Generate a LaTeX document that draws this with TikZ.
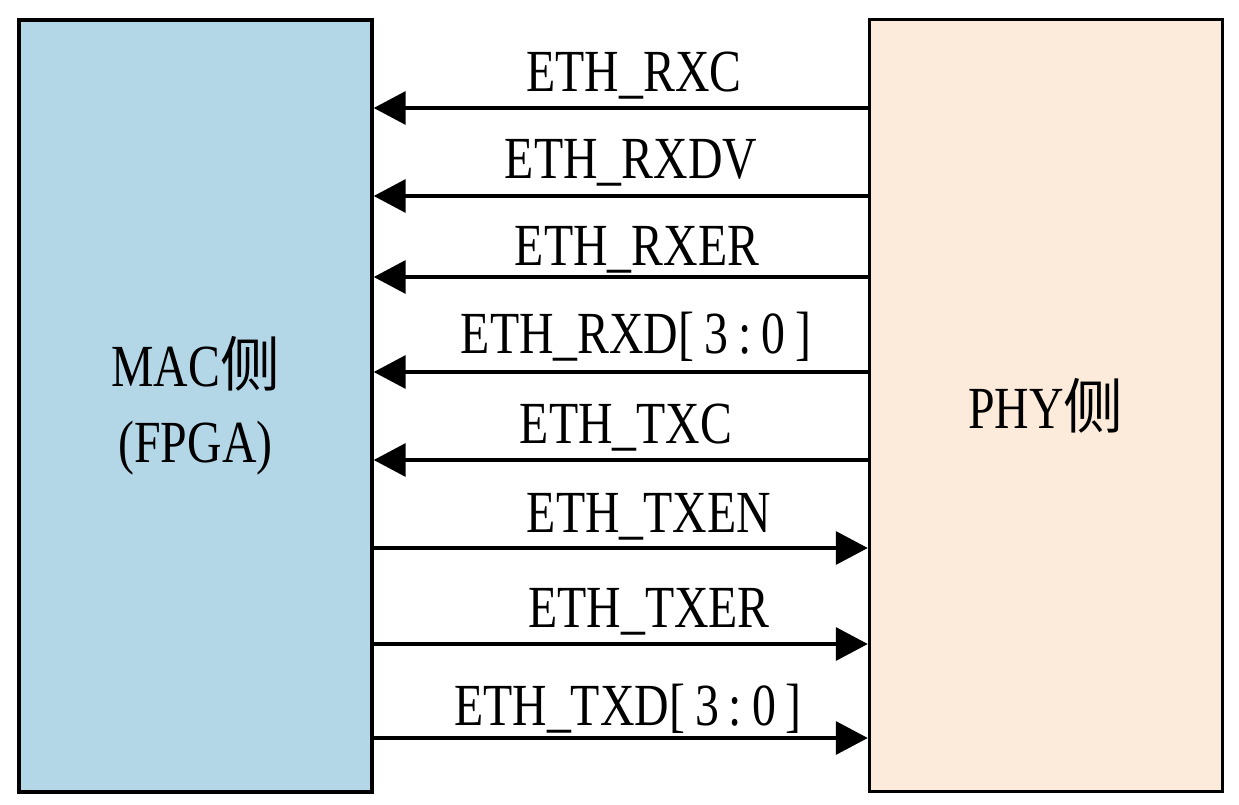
\documentclass[tikz,border=0pt]{standalone}
\usepackage{fontspec}
\setmainfont[FakeStretch=0.8]{Liberation Serif}
\newfontfamily\cjkfont{Noto Sans CJK SC}
\usetikzlibrary{arrows.meta}
\definecolor{macblue}{HTML}{B4D7E8}
\definecolor{phypeach}{HTML}{FCEADB}

\begin{document}
\begin{tikzpicture}[x=0.02cm,y=-0.02cm]
\tikzset{
  sidebox/.style={draw,line width=2pt,minimum width=7.06cm,minimum height=15.44cm,inner sep=0pt,align=center,font=\fontsize{34}{43}\selectfont},
  signal/.style={-{Triangle[length=0.64cm,width=0.66cm]},line width=2pt},
  siglabel/.style={anchor=base,inner sep=0pt,font=\fontsize{34}{40}\selectfont}
}
\useasboundingbox (0,0) rectangle (1239,804);
\node[sidebox,fill=macblue] (n_mac) at (195.5,406) {MAC{\cjkfont 侧}\\(FPGA)};
\node[sidebox,fill=phypeach] (n_phy) at (1046,405.5) {PHY{\cjkfont 侧}};
% receive side: PHY -> MAC
\draw[signal] (n_phy.west |- 0,108) -- (n_mac.east |- 0,108);
\draw[signal] (n_phy.west |- 0,196) -- (n_mac.east |- 0,196);
\draw[signal] (n_phy.west |- 0,277) -- (n_mac.east |- 0,277);
\draw[signal] (n_phy.west |- 0,372) -- (n_mac.east |- 0,372);
\draw[signal] (n_phy.west |- 0,460) -- (n_mac.east |- 0,460);
% transmit side: MAC -> PHY
\draw[signal] (n_mac.east |- 0,548) -- (n_phy.west |- 0,548);
\draw[signal] (n_mac.east |- 0,644) -- (n_phy.west |- 0,644);
\draw[signal] (n_mac.east |- 0,738) -- (n_phy.west |- 0,738);
\node[siglabel] (l_rxc) at (634,92) {ETH\_RXC};
\node[siglabel] (l_rxdv) at (631,178) {ETH\_RXDV};
\node[siglabel] (l_rxer) at (637,265) {ETH\_RXER};
\node[siglabel] (l_rxd) at (636,353) {ETH\_RXD[\,3\,:\,0\,]};
\node[siglabel] (l_txc) at (626,443) {ETH\_TXC};
\node[siglabel] (l_txen) at (649,532) {ETH\_TXEN};
\node[siglabel] (l_txer) at (649,627) {ETH\_TXER};
\node[siglabel] (l_txd) at (628,725) {ETH\_TXD[\,3\,:\,0\,]};
\end{tikzpicture}
\end{document}
